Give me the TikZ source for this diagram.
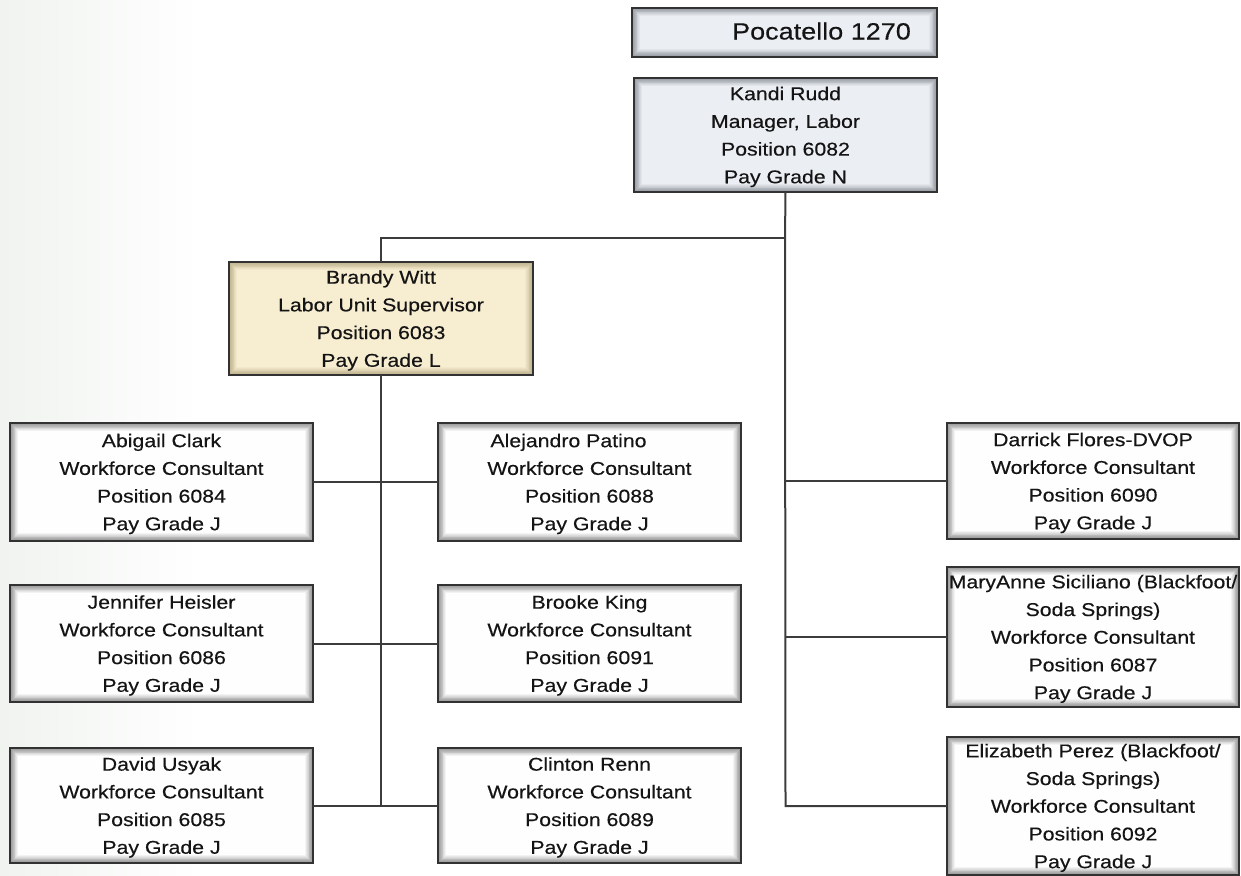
\documentclass[tikz,border=0pt]{standalone}
\usepackage{fontspec}
\setmainfont{Liberation Sans}[FakeStretch=1.15,FakeBold=0.35]
\definecolor{inkline}{RGB}{60,60,60}
\definecolor{boxrule}{RGB}{50,50,50}
\definecolor{textcol}{RGB}{20,20,20}
\definecolor{shadeW}{RGB}{150,150,150}
\definecolor{fillW}{RGB}{255,255,255}
\definecolor{shadeB}{RGB}{150,154,162}
\definecolor{fillB}{RGB}{236,239,244}
\definecolor{shadeY}{RGB}{190,178,140}
\definecolor{fillY}{RGB}{248,238,210}
\definecolor{haze}{RGB}{240,243,240}
\begin{document}
\begin{tikzpicture}[x=1pt,y=-1pt,
  % soft inner shadow: nested rectangles fading from #1 to #2
  glow/.style 2 args={fill=#2, path picture={
    \foreach \k in {0,...,9}{
      \pgfmathtruncatemacro\p{100-\k*11}
      \fill[#1!\p!#2]
        ([shift={(\k*0.9pt,\k*0.9pt)}]path picture bounding box.south west)
        rectangle
        ([shift={(-\k*0.9pt,-\k*0.9pt)}]path picture bounding box.north east);
    }}},
  card/.style={draw=boxrule, line width=1.8pt, rectangle, anchor=north west,
    inner sep=0pt, outer sep=0pt, align=center, text=textcol,
    font={\fontsize{18.5}{27.7}\selectfont}, text depth=-4pt},
  plain/.style={card, glow={shadeW}{fillW}},
  lead/.style={card, glow={shadeB}{fillB}},
  super/.style={card, glow={shadeY}{fillY}},
  link/.style={draw=inkline, line width=2pt}]

\useasboundingbox (0,0) rectangle (1241,875);
\clip (0,0) rectangle (1241,875);
\fill[left color=haze, right color=white] (0,0) rectangle (200,875);

% office and manager
\node[lead, minimum width=305pt, minimum height=49pt,
      font={\fontsize{23.5}{28}\selectfont}, text depth=3pt] (office) at (632,8)
  {\hspace*{74pt}Pocatello 1270};
\node[lead, minimum width=303pt, minimum height=114pt] (kandi) at (634,78)
  {Kandi Rudd\\Manager, Labor\\Position 6082\\Pay Grade N};

% unit supervisor
\node[super, minimum width=304pt, minimum height=113pt] (brandy) at (229,262)
  {Brandy Witt\\Labor Unit Supervisor\\Position 6083\\Pay Grade L};

% consultants under the supervisor
\node[plain, minimum width=303pt, minimum height=118pt] (abigail) at (10,423)
  {Abigail Clark\\Workforce Consultant\\Position 6084\\Pay Grade J};
\node[plain, minimum width=303pt, minimum height=118pt] (alejandro) at (438,423)
  {Alejandro Patino\hspace*{42pt}\\Workforce Consultant\\Position 6088\\Pay Grade J};
\node[plain, minimum width=303pt, minimum height=117pt] (jennifer) at (10,585)
  {Jennifer Heisler\\Workforce Consultant\\Position 6086\\Pay Grade J};
\node[plain, minimum width=303pt, minimum height=117pt] (brooke) at (438,585)
  {Brooke King\\Workforce Consultant\\Position 6091\\Pay Grade J};
\node[plain, minimum width=303pt, minimum height=115pt] (david) at (10,748)
  {David Usyak\\Workforce Consultant\\Position 6085\\Pay Grade J};
\node[plain, minimum width=303pt, minimum height=115pt] (clinton) at (438,748)
  {Clinton Renn\\Workforce Consultant\\Position 6089\\Pay Grade J};

% consultants reporting to the manager
\node[plain, minimum width=292pt, minimum height=116pt] (darrick) at (947,423)
  {Darrick Flores-DVOP\\Workforce Consultant\\Position 6090\\Pay Grade J};
\node[plain, minimum width=292pt, minimum height=140pt] (maryanne) at (947,567)
  {MaryAnne Siciliano (Blackfoot/\\Soda Springs)\\Workforce Consultant\\Position 6087\\Pay Grade J};
\node[plain, minimum width=292pt, minimum height=138pt] (elizabeth) at (947,737)
  {Elizabeth Perez (Blackfoot/\\Soda Springs)\\Workforce Consultant\\Position 6092\\Pay Grade J};

% connectors
\coordinate (split) at (785,238);
\draw[link] (kandi.south) -- (split) -- (kandi.south |- elizabeth.west) -- (elizabeth.west);
\draw[link] (split) -| (brandy.north);
\draw[link] (kandi.south |- darrick.west) -- (darrick.west);
\draw[link] (kandi.south |- maryanne.west) -- (maryanne.west);
\draw[link] (brandy.south) -- (brandy.south |- david.east);
\draw[link] (abigail.east) -- (alejandro.west);
\draw[link] (jennifer.east) -- (brooke.west);
\draw[link] (david.east) -- (clinton.west);
\end{tikzpicture}
\end{document}
